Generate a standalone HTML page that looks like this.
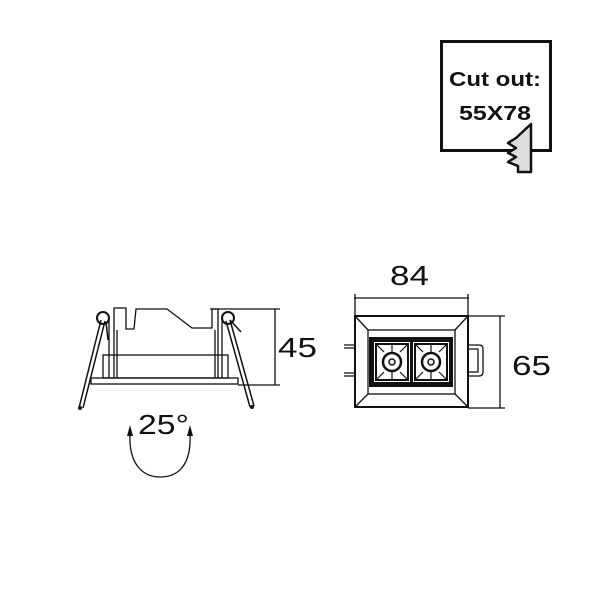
<!DOCTYPE html>
<html><head><meta charset="utf-8"><style>
html,body{margin:0;padding:0;background:#fff;width:600px;height:603px;overflow:hidden}
svg{display:block}
text{font-family:"Liberation Sans",sans-serif;fill:#111}
</style></head><body>
<svg width="600" height="603" viewBox="0 0 600 603" xmlns="http://www.w3.org/2000/svg">
<g fill="none" stroke="#111">
<rect x="441.5" y="41.5" width="109" height="109" stroke-width="3"/>
</g>
<polygon points="531,124 531,172 518,172 518,166 508,162 516,157 508,153 516,148 508,143 516,138" fill="#ddd" stroke="#111" stroke-width="2.5" stroke-linejoin="round"/>
<text x="449" y="86" font-size="20" font-weight="bold" textLength="92" lengthAdjust="spacingAndGlyphs">Cut out:</text>
<text x="459" y="120" font-size="20" font-weight="bold" textLength="72" lengthAdjust="spacingAndGlyphs">55X78</text>

<g fill="none" stroke="#111" stroke-width="1.3">
<rect x="91" y="378" width="147" height="6"/>
<rect x="103" y="355" width="125" height="23"/>
<polyline points="114,378 114,308 126,308 126,329 134,329 136,309 167,309 192,328 212,328 212,309 218,309 218,378"/>
<line x1="117" y1="330" x2="117" y2="378"/>
<line x1="215" y1="330" x2="215" y2="378"/>
<line x1="109" y1="320" x2="109" y2="378"/>
<line x1="222" y1="320" x2="222" y2="378"/>
<circle cx="103" cy="318" r="6" stroke-width="2"/>
<circle cx="228" cy="318" r="6" stroke-width="2"/>
<path d="M101,320 L79,408 M105,321 L83,408" stroke-width="1.5"/>
<path d="M226,321 L250,407 M230,320 L254,406" stroke-width="1.5"/>
<line x1="230" y1="320" x2="241" y2="332" stroke-width="1.5"/>
<line x1="106" y1="322" x2="108" y2="340" stroke-width="1.5"/>
<line x1="210" y1="309" x2="280" y2="309"/>
<line x1="238" y1="385" x2="280" y2="385"/>
<line x1="275" y1="309" x2="275" y2="385"/>
<path d="M130,432 C128,468 146,477 160,477 C176,477 192,468 190,432" stroke-width="1.3"/>
</g>
<path d="M130,425 L127,436 L133,436 Z M190,425 L187,436 L193,436 Z" fill="#111"/>
<circle cx="80" cy="408" r="2" fill="#111"/><circle cx="252" cy="407" r="2" fill="#111"/>
<text x="278" y="357" font-size="28" textLength="39" lengthAdjust="spacingAndGlyphs">45</text>
<text x="138" y="434" font-size="28" textLength="51" lengthAdjust="spacingAndGlyphs">25°</text>

<g fill="none" stroke="#111" stroke-width="1.3">
<line x1="354" y1="298" x2="469" y2="298"/>
<line x1="355" y1="294" x2="355" y2="316"/>
<line x1="468" y1="294" x2="468" y2="316"/>
<rect x="355" y="316" width="113" height="91" stroke-width="2"/>
<rect x="368" y="330" width="87" height="64"/>
<path d="M355,316 L368,330 M468,316 L455,330 M355,407 L368,394 M468,407 L455,394"/>
<line x1="468" y1="316" x2="505" y2="316"/>
<line x1="468" y1="408" x2="505" y2="408"/>
<line x1="500" y1="316" x2="500" y2="408"/>
<path d="M344,345 H355 M344,348 H355 M344,373 H355 M344,376 H355"/>
<path d="M468,345 H479 Q483,345 483,349 V372 Q483,376 479,376 H468 M468,349 H478 V372 H468"/>
</g>
<rect x="369" y="337" width="84" height="50" fill="#111"/>
<g fill="#fff" stroke="none">
<rect x="374" y="342" width="36" height="40"/>
<rect x="413" y="342" width="36" height="40"/>
</g>
<g fill="none" stroke="#111" stroke-width="1.2">
<rect x="376" y="344" width="32" height="36" stroke-width="2"/>
<rect x="415" y="344" width="32" height="36" stroke-width="2"/>
<path d="M377,345 L384,352 M407,345 L400,352 M377,379 L384,372 M407,379 L400,372 M392,345 V352 M392,372 V379"/>
<path d="M416,345 L423,352 M446,345 L439,352 M416,379 L423,372 M446,379 L439,372 M431,345 V352 M431,372 V379"/>
<circle cx="392" cy="362" r="9" stroke-width="2.5"/>
<circle cx="392" cy="362" r="3" stroke-width="1.5"/>
<circle cx="431" cy="362" r="9" stroke-width="2.5"/>
<circle cx="431" cy="362" r="3" stroke-width="1.5"/>
</g>
<text x="390" y="285" font-size="28" textLength="39" lengthAdjust="spacingAndGlyphs">84</text>
<text x="512" y="375" font-size="28" textLength="39" lengthAdjust="spacingAndGlyphs">65</text>
</svg>
</body></html>
